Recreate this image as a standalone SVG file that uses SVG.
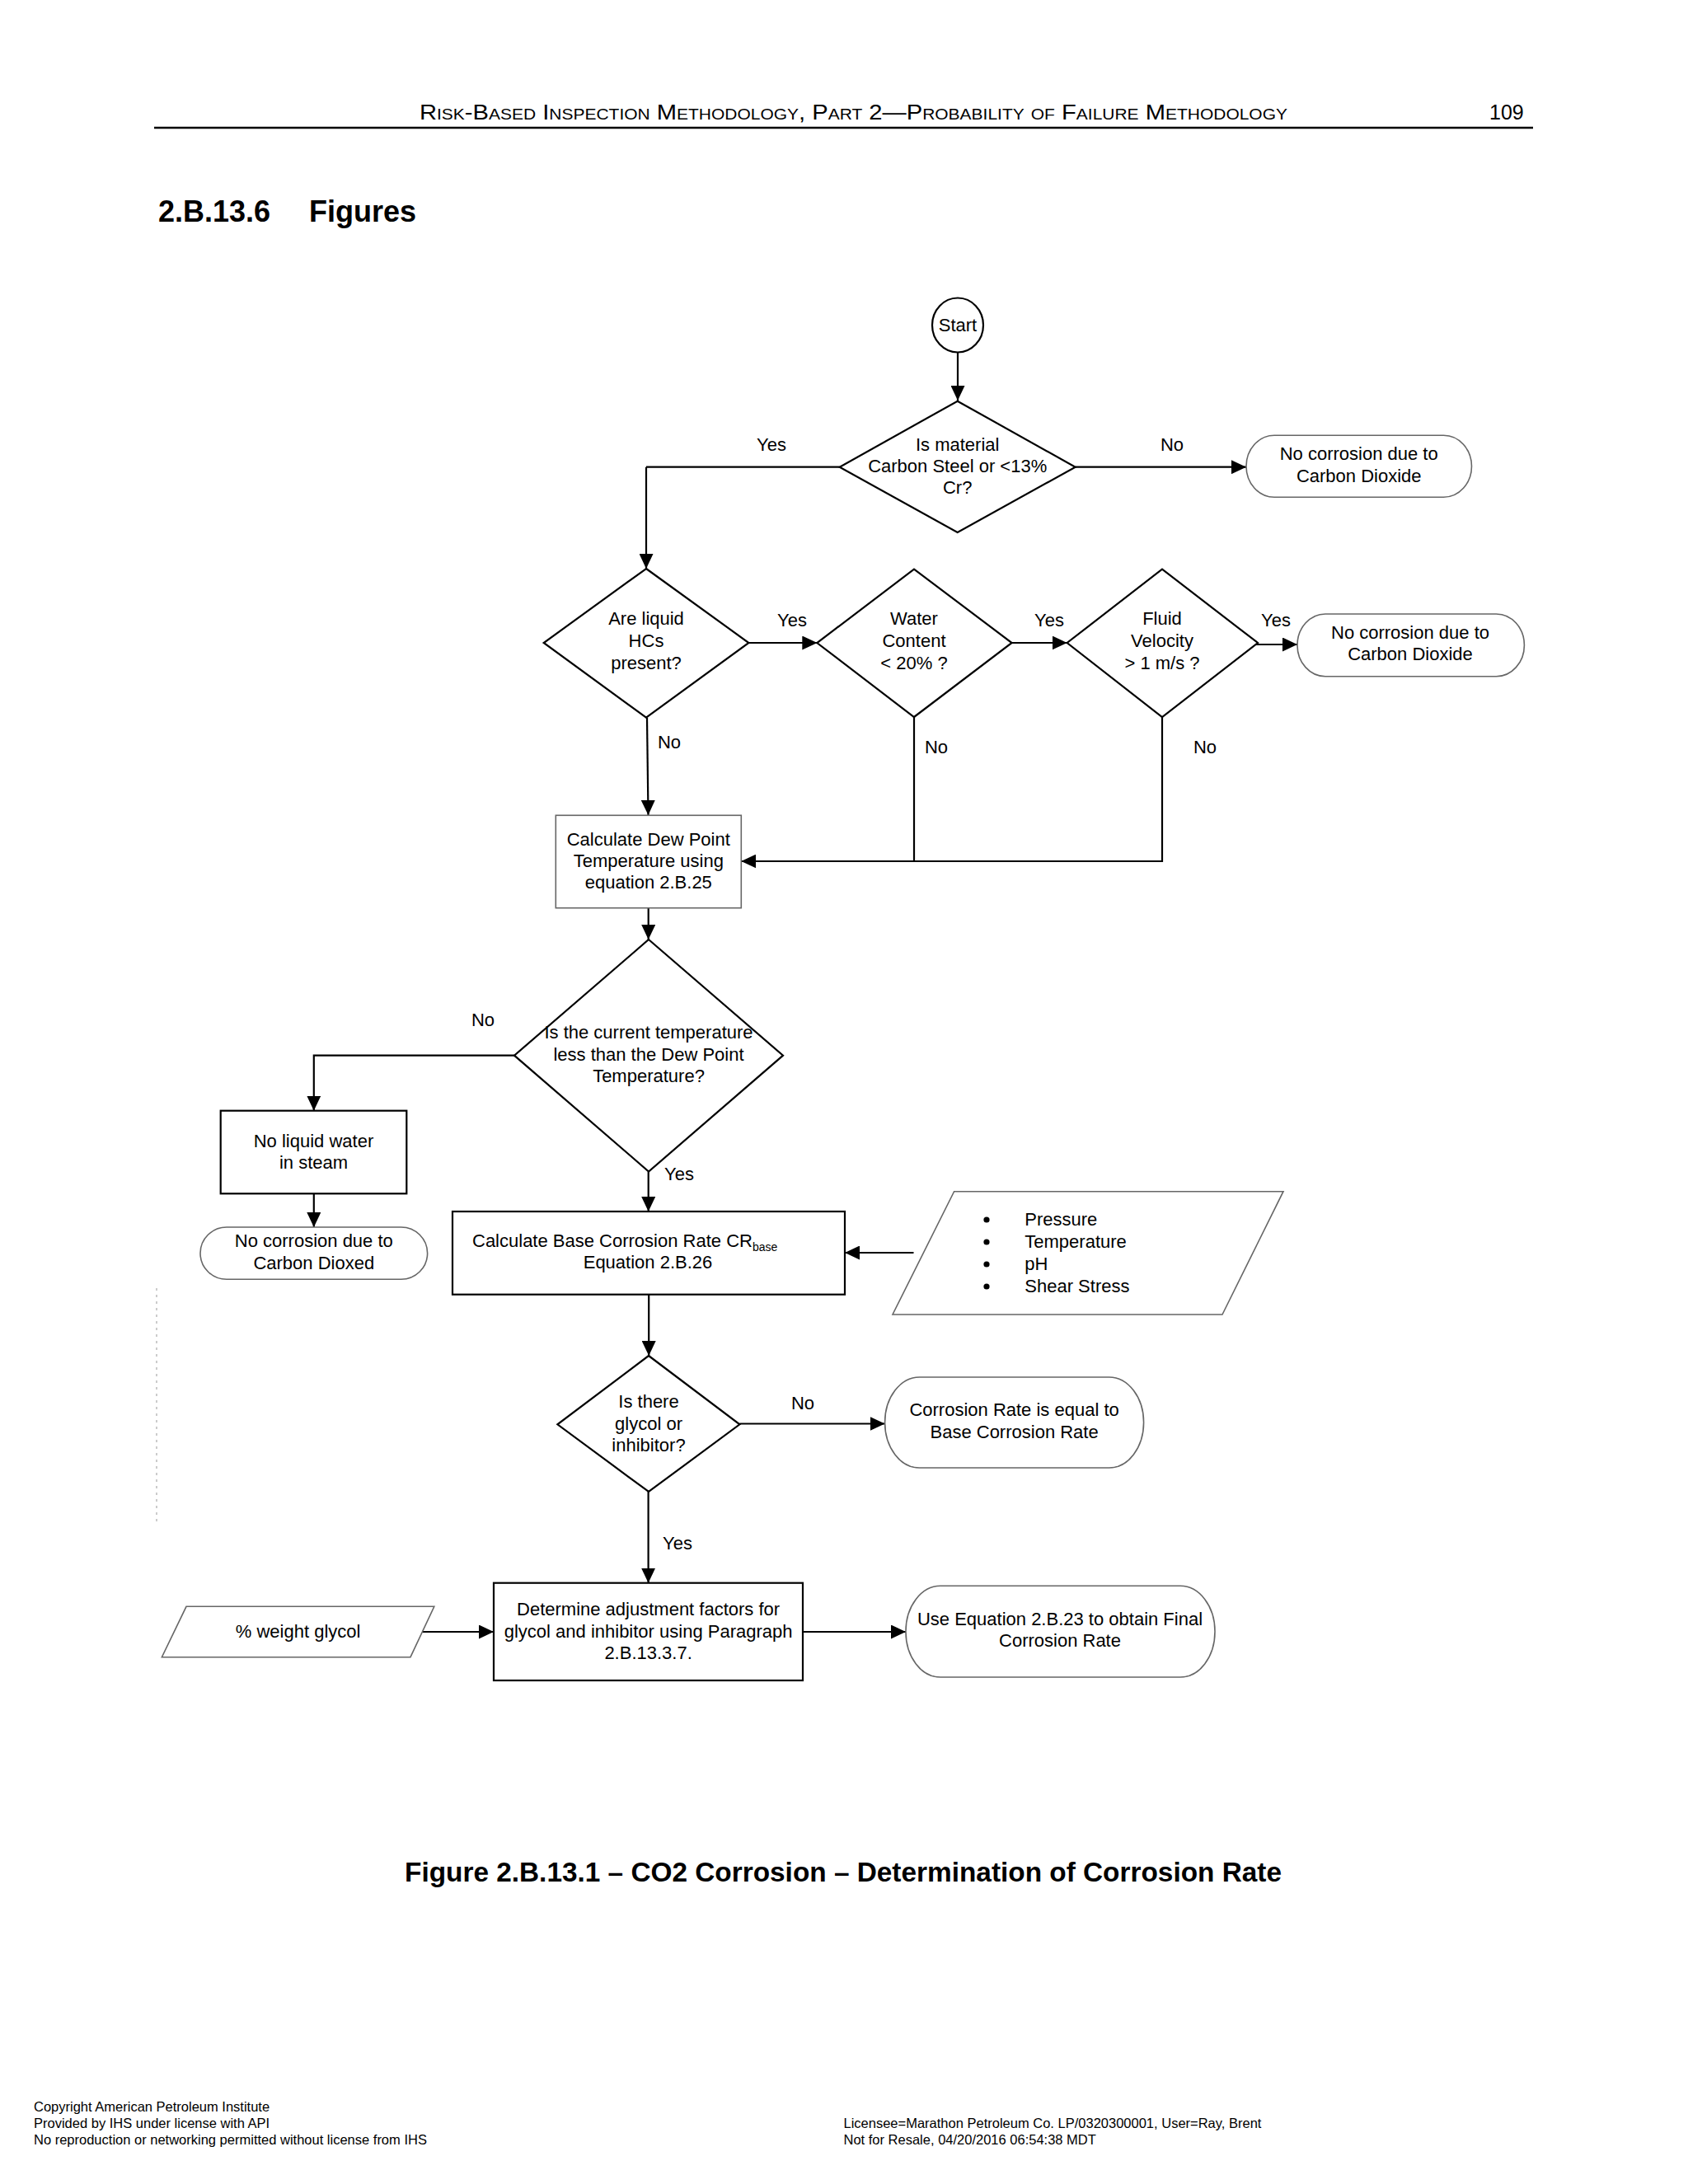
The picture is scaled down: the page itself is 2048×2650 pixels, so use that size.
<svg xmlns="http://www.w3.org/2000/svg" width="2048" height="2650" viewBox="0 0 2048 2650">
<defs>
<marker id="ah" markerUnits="userSpaceOnUse" markerWidth="18" markerHeight="17" refX="18" refY="8.5" orient="auto"><path d="M0,0 L18,8.5 L0,17 z" fill="#000"/></marker>
<style>
.bk{fill:#fff;stroke:#000;stroke-width:2.2}
.gy{fill:#fff;stroke:#666;stroke-width:1.6}
.t{font-family:"Liberation Sans",Arial,sans-serif;font-size:22px;fill:#000}
.c{text-anchor:middle}
.e{fill:none;stroke:#000;stroke-width:2.2;marker-end:url(#ah)}
.l{fill:none;stroke:#000;stroke-width:2.2}
.ft{font-family:"Liberation Sans",Arial,sans-serif;font-size:16.5px;fill:#000}
</style>
</defs>
<rect width="2048" height="2650" fill="#fff"/>

<g id="page-header">
<text x="509" y="145" font-family="Liberation Sans, Arial, sans-serif" font-size="25" font-variant="small-caps" textLength="1053" lengthAdjust="spacingAndGlyphs">Risk-Based Inspection Methodology, Part 2—Probability of Failure Methodology</text>
<text x="1807" y="145" font-family="Liberation Sans, Arial, sans-serif" font-size="25">109</text>
<line x1="187" y1="155" x2="1860" y2="155" stroke="#000" stroke-width="2.5"/>
<text x="192" y="269" font-family="Liberation Sans, Arial, sans-serif" font-size="36" font-weight="bold">2.B.13.6</text>
<text x="375" y="269" font-family="Liberation Sans, Arial, sans-serif" font-size="36" font-weight="bold">Figures</text>
</g>

<g id="connectors">
<path class="e" d="M1162,427 L1162,486"/>
<path class="l" d="M1018.7,566.7 L784,566.7"/>
<path class="e" d="M784,566.7 L784,690"/>
<path class="e" d="M1304.7,566.7 L1512,566.7"/>
<path class="e" d="M908.4,780 L991.3,780"/>
<path class="e" d="M1227.6,780 L1294.7,780"/>
<path class="e" d="M1524,782 L1574,782"/>
<path class="e" d="M785,870.7 L786.5,989"/>
<path class="l" d="M1109,870 L1109,1045"/>
<path class="e" d="M1410,870 L1410,1045 L899.3,1045"/>
<path class="e" d="M786.7,1101.7 L786.7,1140"/>
<path class="e" d="M624,1280.7 L380.8,1280.7 L380.8,1347.7"/>
<path class="e" d="M380.8,1448.3 L380.8,1489"/>
<path class="e" d="M786.7,1421.7 L786.7,1470"/>
<path class="e" d="M1108.5,1520 L1025,1520"/>
<path class="e" d="M787.2,1570.7 L787.2,1645"/>
<path class="e" d="M897.4,1727.5 L1073.6,1727.5"/>
<path class="e" d="M786.6,1810 L786.6,1920.7"/>
<path class="e" d="M511.6,1980 L599,1980"/>
<path class="e" d="M974,1980 L1099,1980"/>
</g>

<g id="edge-labels" class="t">
<text class="c" x="936" y="547">Yes</text>
<text class="c" x="1422" y="547">No</text>
<text class="c" x="961" y="760">Yes</text>
<text class="c" x="1273" y="760">Yes</text>
<text class="c" x="1548" y="760">Yes</text>
<text class="c" x="812" y="908">No</text>
<text class="c" x="1136" y="914">No</text>
<text class="c" x="1462" y="914">No</text>
<text class="c" x="586" y="1245">No</text>
<text x="806" y="1432">Yes</text>
<text class="c" x="974" y="1710">No</text>
<text x="804" y="1880">Yes</text>
</g>

<g id="start">
<ellipse cx="1162" cy="394.5" rx="31" ry="33" class="bk" stroke-width="1.8"/>
<text class="t c" x="1162" y="402">Start</text>
</g>

<g id="d-material">
<polygon class="bk" points="1161.7,486.7 1304.7,566.7 1161.7,646 1018.7,566.7"/>
<text class="t c" x="1161.7" y="547">Is material</text>
<text class="t c" x="1161.7" y="573">Carbon Steel or &lt;13%</text>
<text class="t c" x="1161.7" y="599">Cr?</text>
</g>

<g id="t-no-co2-1">
<rect class="gy" x="1512" y="528.3" width="273.5" height="75" rx="34" ry="37.5"/>
<text class="t c" x="1648.7" y="558">No corrosion due to</text>
<text class="t c" x="1648.7" y="585">Carbon Dioxide</text>
</g>

<g id="d-hcs">
<polygon class="bk" points="784,690 908.4,780 784,870.7 659.7,780"/>
<text class="t c" x="784" y="758">Are liquid</text>
<text class="t c" x="784" y="785">HCs</text>
<text class="t c" x="784" y="812">present?</text>
</g>

<g id="d-water">
<polygon class="bk" points="1109,690.7 1227.6,780 1109,870 991.3,780"/>
<text class="t c" x="1109" y="758">Water</text>
<text class="t c" x="1109" y="785">Content</text>
<text class="t c" x="1109" y="812">&lt; 20% ?</text>
</g>

<g id="d-velocity">
<polygon class="bk" points="1410,690.7 1526,780 1410,870 1294.7,780"/>
<text class="t c" x="1410" y="758">Fluid</text>
<text class="t c" x="1410" y="785">Velocity</text>
<text class="t c" x="1410" y="812">&gt; 1 m/s ?</text>
</g>

<g id="t-no-co2-2">
<rect class="gy" x="1574" y="745" width="275.4" height="75.7" rx="34" ry="37.8"/>
<text class="t c" x="1711" y="775">No corrosion due to</text>
<text class="t c" x="1711" y="801">Carbon Dioxide</text>
</g>

<g id="p-dewpoint">
<rect class="gy" x="674.3" y="989.3" width="225" height="112.4"/>
<text class="t c" x="786.8" y="1026">Calculate Dew Point</text>
<text class="t c" x="786.8" y="1052">Temperature using</text>
<text class="t c" x="786.8" y="1078">equation 2.B.25</text>
</g>

<g id="d-temperature">
<polygon class="bk" points="787,1140 950,1280.7 787,1421.5 624,1280.7"/>
<text class="t c" x="787" y="1260">Is the current temperature</text>
<text class="t c" x="787" y="1287">less than the Dew Point</text>
<text class="t c" x="787" y="1313">Temperature?</text>
</g>

<g id="p-no-water">
<rect class="bk" x="267.7" y="1347.7" width="225.6" height="100.6"/>
<text class="t c" x="380.5" y="1392">No liquid water</text>
<text class="t c" x="380.5" y="1418">in steam</text>
</g>

<g id="t-no-co2-3">
<rect class="gy" x="243" y="1489" width="275.6" height="63.3" rx="32" ry="31.6"/>
<text class="t c" x="380.8" y="1513">No corrosion due to</text>
<text class="t c" x="380.8" y="1540">Carbon Dioxed</text>
</g>

<g id="p-base-rate">
<rect class="bk" x="549" y="1470" width="476" height="100.7"/>
<text class="t" x="573" y="1513">Calculate Base Corrosion Rate CR<tspan font-size="14" dy="5">base</tspan></text>
<text class="t c" x="786" y="1539">Equation 2.B.26</text>
</g>

<g id="i-inputs">
<polygon class="gy" points="1157.6,1445.7 1557,1445.7 1483,1595 1083,1595"/>
<g class="t">
<circle cx="1197" cy="1480" r="3.6" fill="#000"/>
<circle cx="1197" cy="1507" r="3.6" fill="#000"/>
<circle cx="1197" cy="1534" r="3.6" fill="#000"/>
<circle cx="1197" cy="1561" r="3.6" fill="#000"/>
<text x="1243.3" y="1487.3">Pressure</text>
<text x="1243.3" y="1514.3">Temperature</text>
<text x="1243.3" y="1540.5">pH</text>
<text x="1243.3" y="1567.7">Shear Stress</text>
</g>
</g>

<g id="d-glycol">
<polygon class="bk" points="787,1645 897.4,1728.3 787,1810 676.4,1728.3"/>
<text class="t c" x="787" y="1708">Is there</text>
<text class="t c" x="787" y="1735">glycol or</text>
<text class="t c" x="787" y="1761">inhibitor?</text>
</g>

<g id="t-base-equal">
<rect class="gy" x="1073.6" y="1671" width="314" height="110" rx="42" ry="55"/>
<text class="t c" x="1230.6" y="1718">Corrosion Rate is equal to</text>
<text class="t c" x="1230.6" y="1745">Base Corrosion Rate</text>
</g>

<g id="i-glycol-weight">
<polygon class="gy" points="226,1949.3 526.8,1949.3 498,2010.7 196.4,2010.7"/>
<text class="t c" x="361.6" y="1987">% weight glycol</text>
</g>

<g id="p-adjust">
<rect class="bk" x="599" y="1920.7" width="375" height="118.3"/>
<text class="t c" x="786.6" y="1960">Determine adjustment factors for</text>
<text class="t c" x="786.6" y="1987">glycol and inhibitor using Paragraph</text>
<text class="t c" x="786.6" y="2013">2.B.13.3.7.</text>
</g>

<g id="t-final">
<rect class="gy" x="1099" y="1924.3" width="375" height="110.7" rx="42" ry="55"/>
<text class="t c" x="1286" y="1972">Use Equation 2.B.23 to obtain Final</text>
<text class="t c" x="1286" y="1998">Corrosion Rate</text>
</g>

<line x1="190" y1="1563" x2="190" y2="1848" stroke="#aaa" stroke-width="1.2" stroke-dasharray="3,5"/>

<text x="491" y="2283" font-family="Liberation Sans, Arial, sans-serif" font-size="33" font-weight="bold" textLength="1064" lengthAdjust="spacingAndGlyphs">Figure 2.B.13.1 – CO2 Corrosion – Determination of Corrosion Rate</text>

<g id="footer" class="ft">
<text x="41" y="2562">Copyright American Petroleum Institute</text>
<text x="41" y="2582">Provided by IHS under license with API</text>
<text x="41" y="2602">No reproduction or networking permitted without license from IHS</text>
<text x="1023.5" y="2582">Licensee=Marathon Petroleum Co. LP/0320300001, User=Ray, Brent</text>
<text x="1023.5" y="2602">Not for Resale, 04/20/2016 06:54:38 MDT</text>
</g>
</svg>
